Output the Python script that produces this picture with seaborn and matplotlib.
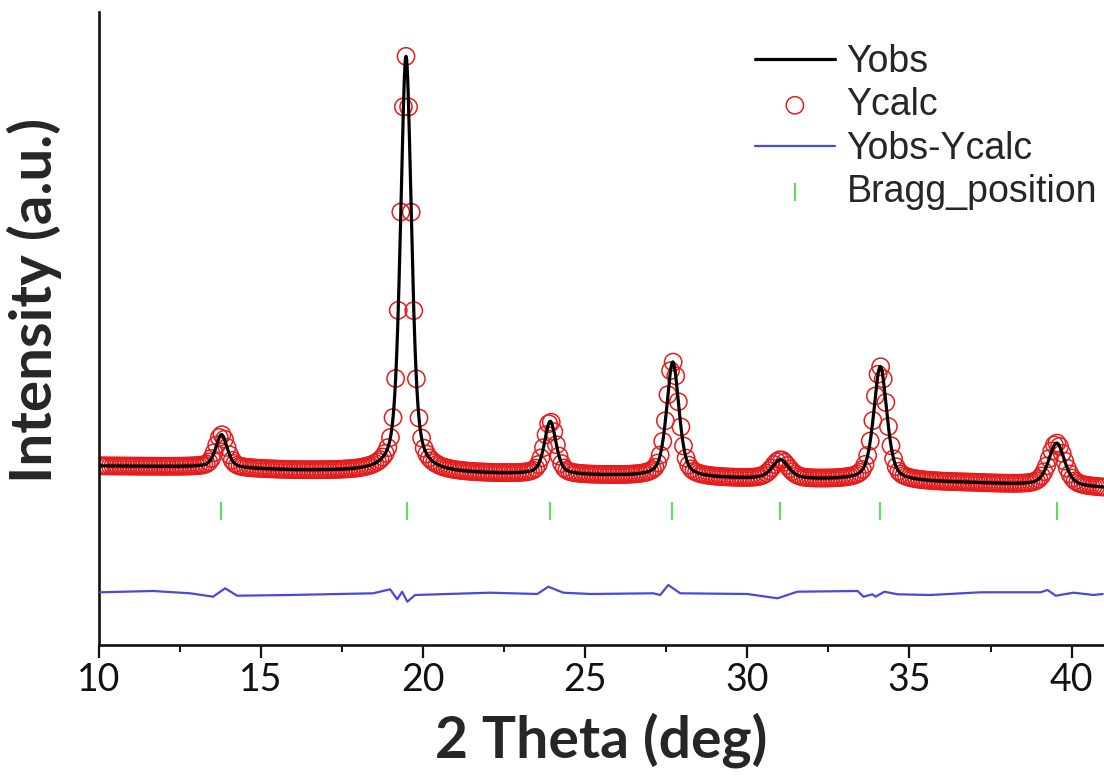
import numpy as np
import matplotlib
matplotlib.use('Agg')
import matplotlib.pyplot as plt
import seaborn as sns
from matplotlib.ticker import MultipleLocator

# reflections: 2theta, height above background, FWHM
peak_pos = [13.78, 19.47, 23.92, 27.70, 31.02, 34.10, 39.54]
peak_height = [330, 4160, 530, 1150, 190, 1140, 430]
peak_fwhm = [0.42, 0.40, 0.42, 0.45, 0.60, 0.48, 0.58]

# background level at a few angles
bg_pos = [10, 13, 16, 22, 26, 30, 33, 37, 41]
bg_level = [1790, 1780, 1745, 1710, 1690, 1660, 1650, 1620, 1570]

# Bragg reflection markers
bragg_pos = [13.77, 19.51, 23.92, 27.69, 31.02, 34.10, 39.54]
bragg_level = 1340

# difference curve Yobs-Ycalc (offset)
diff_x = [10.03, 11.67, 12.81, 13.52, 13.89, 14.26, 15.90, 18.46, 18.98, 19.20,
          19.35, 19.51, 19.75, 22.07, 23.52, 23.86, 24.32, 25.15, 27.10, 27.31,
          27.56, 27.93, 30.00, 30.93, 31.54, 33.40, 33.58, 33.86, 33.95, 34.23,
          34.63, 35.65, 37.19, 39.04, 39.26, 39.51, 40.06, 40.68, 40.96]
diff_y = [527, 540, 517, 483, 567, 493, 500, 517, 557, 457,
          533, 433, 500, 523, 510, 583, 523, 510, 517, 500,
          600, 517, 510, 467, 533, 540, 483, 507, 483, 533,
          507, 500, 527, 527, 550, 493, 523, 500, 510]


def pattern(tt):
    y = np.interp(tt, bg_pos, bg_level)
    for p, h, w in zip(peak_pos, peak_height, peak_fwhm):
        g = np.exp(-4 * np.log(2) * ((tt - p) / w) ** 2)
        l = 1 / (1 + 4 * ((tt - p) / w) ** 2)
        y = y + h * (0.5 * g + 0.5 * l)
    return y


tt_obs = np.arange(10, 41.001, 0.01)
tt_calc = np.arange(10.03, 41.001, 0.08)
y_obs = pattern(tt_obs)
y_calc = pattern(tt_calc)

sns.set_theme(style='ticks')
plt.rcParams['font.family'] = ['Lato', 'DejaVu Sans']

fig = plt.figure(figsize=(11.04, 7.83), dpi=100)
ax = fig.add_axes([99 / 1104, 138 / 783, 1005 / 1104, 633 / 783])

sns.scatterplot(x=tt_calc, y=y_calc, ax=ax, marker='o', s=155,
                facecolors='none', edgecolors='#e51c1c', linewidth=1.1,
                label='Ycalc', zorder=2)
sns.lineplot(x=tt_obs, y=y_obs, ax=ax, color='black', lw=2.3,
             label='Yobs', zorder=3)
sns.lineplot(x=diff_x, y=diff_y, ax=ax, color='#4a4ad8', lw=1.6,
             label='Yobs-Ycalc', zorder=3)
sns.scatterplot(x=bragg_pos, y=[bragg_level] * len(bragg_pos), ax=ax,
                marker='|', s=170, color='#66d866', linewidth=1.6,
                label='Bragg_position', zorder=3)

ax.set_xlim(10, 41)
ax.set_ylim(0, 6330)
ax.set_xticks(range(10, 41, 5))
ax.xaxis.set_minor_locator(MultipleLocator(2.5))
ax.set_yticks([])
ax.tick_params(axis='x', which='major', length=9, width=1.6, labelsize=27,
               pad=3, colors='#111111')
ax.tick_params(axis='x', which='minor', length=5, width=1.4, colors='#111111')
sns.despine(ax=ax)
for side in ['left', 'bottom']:
    ax.spines[side].set_linewidth(1.9)
    ax.spines[side].set_color('#111111')

ax.set_xlabel('2 Theta (deg)', fontsize=41, fontweight='bold')
ax.set_ylabel('Intensity (a.u.)', fontsize=42, fontweight='bold')
ax.xaxis.set_label_coords(0.5, -0.107)
ax.yaxis.set_label_coords(-0.037, 0.545)

handles, labels = ax.get_legend_handles_labels()
order = ['Yobs', 'Ycalc', 'Yobs-Ycalc', 'Bragg_position']
handles = [handles[labels.index(k)] for k in order]
ax.legend(handles, order, loc='upper right', bbox_to_anchor=(0.993, 0.95),
          frameon=False, borderpad=0, borderaxespad=0, labelspacing=0.2,
          handlelength=2.15, handletextpad=0.3,
          prop={'family': ['Liberation Sans', 'DejaVu Sans'], 'size': 27})

fig.savefig('out.png', dpi=100)
